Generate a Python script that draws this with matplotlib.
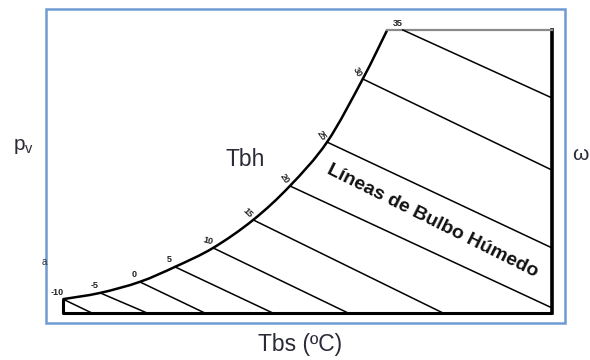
import numpy as np
import matplotlib
matplotlib.use("Agg")
import matplotlib.pyplot as plt
from matplotlib.path import Path
from matplotlib.patches import PathPatch, Rectangle

plt.rcParams['font.family'] = ['Liberation Sans', 'DejaVu Sans']
plt.rcParams['mathtext.fontset'] = 'custom'
plt.rcParams['mathtext.rm'] = 'Liberation Sans'

# schematic chart, both axes scaled 0..100 over the inner box
tbh = [-10, -5, 0, 5, 10, 15, 20, 25, 30, 35]
sat_x = [0, 7.6, 15.7, 22.9, 30.7, 38.9, 46.4, 54.0, 61.3, 66.3]
sat_y = [4.9, 7.1, 11.0, 16.3, 23.0, 32.9, 44.9, 60.4, 82.7, 100]
# wet bulb lines: start on the curve (35 starts on the top edge), end on bottom/right edge
wb_x0 = [0, 7.6, 15.7, 22.9, 30.7, 38.9, 46.4, 54.0, 61.3, 69.5]
wb_y0 = [4.9, 7.1, 11.0, 16.3, 23.0, 32.9, 44.9, 60.4, 82.7, 100]
wb_x1 = [5.9, 17.2, 29.0, 42.9, 58.3, 77.7, 100, 100, 100, 100]
wb_y1 = [0, 0, 0, 0, 0, 0, 1.8, 23.0, 50.5, 76.0]
lbl_rot = [0, 0, 0, 0, -15, -45, -55, -55, -60, 0]

W, H = 590, 360
fig = plt.figure(figsize=(W / 100, H / 100), dpi=100)
fig.patch.set_facecolor('white')

# blue frame round the picture
fig.patches.append(Rectangle((46 / W, 1 - 323 / H), 519 / W, 314 / H,
                             transform=fig.transFigure, fill=False,
                             edgecolor='#6f9bd3', linewidth=1.8))

ax = fig.add_axes([63 / W, 1 - 313 / H, 489 / W, 283 / H])
ax.set_xlim(0, 100)
ax.set_ylim(0, 100)
ax.axis('off')


def smooth_path(xs, ys):
    # catmull-rom through the read points, drawn as cubic bezier segments
    pts = np.column_stack([xs, ys])
    verts = [pts[0]]
    codes = [Path.MOVETO]
    n = len(pts)
    for i in range(n - 1):
        p0 = pts[max(i - 1, 0)]
        p1 = pts[i]
        p2 = pts[i + 1]
        p3 = pts[min(i + 2, n - 1)]
        c1 = p1 + (p2 - p0) / 6
        c2 = p2 - (p3 - p1) / 6
        verts += [c1, c2, p2]
        codes += [Path.CURVE4] * 3
    return Path(verts, codes)


ax.add_patch(PathPatch(smooth_path(sat_x, sat_y), fill=False,
                       edgecolor='black', linewidth=1.8, clip_on=False))

# box edges
ax.plot([sat_x[0], sat_x[0], 100], [sat_y[0], 0, 0], color='black', lw=2.2,
        clip_on=False, solid_capstyle='butt')
ax.plot([100, 100], [0, 100], color='black', lw=2.6, clip_on=False)
ax.plot([sat_x[-1], 100], [100, 100], color='#8a8a8a', lw=1.6, clip_on=False)

for t, x0, y0, x1, y1, r in zip(tbh, wb_x0, wb_y0, wb_x1, wb_y1, lbl_rot):
    ax.plot([x0, x1], [y0, y1], color='black', lw=1.1, clip_on=False)
    ax.annotate(str(t), (x0, y0), xytext=(-4, 5), textcoords='offset points',
                ha='center', va='center', fontsize=6.5, fontweight='bold',
                rotation=r, color='#222222', annotation_clip=False)

ax.text(75.5, 32.5, 'Líneas de Bulbo Húmedo', rotation=-26.5,
        ha='center', va='center', fontsize=14, fontweight='bold',
        color='#111111', rotation_mode='anchor')

txt = '#2b2b38'
fig.text(24 / W, 1 - 146 / H, r'$\mathregular{p_v}$', ha='center', va='center',
         fontsize=15, color=txt)
fig.text(245 / W, 1 - 160 / H, 'Tbh', ha='center', va='center',
         fontsize=16.5, color=txt)
fig.text(580 / W, 1 - 155 / H, 'ω', ha='center', va='center',
         fontsize=15, color=txt)
fig.text(300 / W, 1 - 344 / H, 'Tbs (ºC)', ha='center', va='center',
         fontsize=16.5, color=txt)
fig.text(44 / W, 1 - 262 / H, 'a', ha='center', va='center',
         fontsize=7, color='#333333')

fig.savefig('out.png', dpi=100)
